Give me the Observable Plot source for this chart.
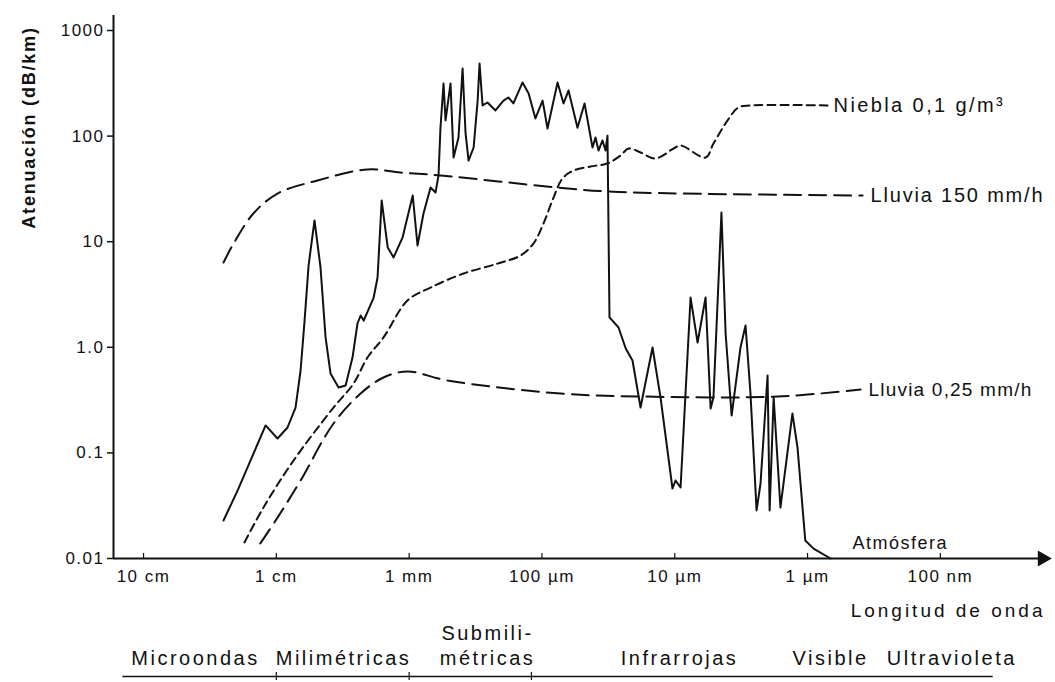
<!DOCTYPE html>
<html><head><meta charset="utf-8">
<script src="https://cdn.jsdelivr.net/npm/d3@7"></script>
<script src="https://cdn.jsdelivr.net/npm/@observablehq/plot@0.6"></script>
<style>
html,body{margin:0;padding:0;background:#fff;}
svg text{letter-spacing:1.5px;}
</style></head><body><div id="chart"></div>
<script>
// wavelength in mm, attenuation in dB/km
const atmLambda = [25.0,19.6,12.05,9.8,8.24,7.17,6.57,6.13,5.72,5.16,4.65,4.26,3.91,3.40,3.01,2.67,2.45,2.32,2.20,1.85,1.73,1.61,1.45,1.31,1.12,0.94,0.865,0.78,0.69,0.633,0.601,0.581,0.551,0.532,0.488,0.463,0.425,0.396,0.376,0.357,0.327,0.305,0.295,0.280,0.257,0.224,0.195,0.179,0.164,0.140,0.126,0.112,0.0989,0.0908,0.0763,0.0688,0.0631,0.0540,0.0478,0.0416,0.0395,0.0375,0.0350,0.0332,0.0321,0.0310,0.0265,0.0234,0.0208,0.0181,0.0147,0.0128,0.0104,0.00986,0.00904,0.00760,0.00673,0.00586,0.00537,0.00511,0.00445,0.00414,0.00373,0.00320,0.00293,0.00269,0.00242,0.00226,0.00200,0.00193,0.00180,0.00160,0.00130,0.00119,0.00104,0.000901,0.000671];
const atmAtt = [0.0229,0.044,0.182,0.137,0.174,0.269,0.603,1.79,5.95,15.9,5.7,1.24,0.565,0.416,0.434,0.80,1.68,2.0,1.79,2.96,4.58,24.5,8.8,7.1,11.0,27.4,9.2,18.5,32.6,29.2,42.4,120,315,141,315,62.7,97,437,106,58.7,78,217,487,195,208,175,217,232,204,322,253,147,217,118,322,204,270,120,204,78,97,73,91,73,101,1.92,1.54,0.975,0.75,0.269,0.995,0.335,0.046,0.0548,0.047,2.96,1.11,2.96,0.263,0.335,18.9,1.35,0.226,0.995,1.61,0.365,0.0285,0.0513,0.541,0.0285,0.335,0.0304,0.236,0.112,0.0148,0.0124,0.01];

const fogLambda = [17.4,12.5,7.42,3.71,2.62,2.06,1.56,1.03,0.69,0.389,0.216,0.145,0.116,0.0973,0.0818,0.0700,0.0578,0.0431,0.0321,0.0256,0.0223,0.0181,0.0140,0.0102,0.00904,0.00586,0.00511,0.00400,0.00331,0.00269,0.000707];
const fogAtt = [0.0142,0.0304,0.0848,0.269,0.454,0.80,1.24,2.77,3.68,5.0,6.2,7.4,9.6,14.9,26.2,39.7,47.2,51.5,55.1,65.5,76.3,70,61.4,76.3,81.5,62.7,85,141,187,195,195];

const rain150Lambda = [25.0,21.0,14.9,9.8,4.9,2.06,1.16,0.581,0.0763,0.0321,0.00904,0.000385];
const rain150Att = [6.35,9.6,18.5,28.6,38,48.3,45.2,42.4,32.6,29.9,28.6,27.4];

const rain025Lambda = [13.2,9.8,6.57,3.71,2.32,1.56,1.03,0.514,0.0724,0.0181,0.00168,0.000399];
const rain025Att = [0.0139,0.0244,0.0548,0.190,0.365,0.518,0.590,0.485,0.365,0.342,0.342,0.398];

const xTickValues = [100,10,1,0.1,0.01,0.001,0.0001];
const xTickLabels = ["10 cm","1 cm","1 mm","100 µm","10 µm","1 µm","100 nm"];
const yTickValues = [1000,100,10,1,0.1,0.01];
const yTickLabels = ["1000","100","10","1.0","0.1","0.01"];

const bandNames = ["Microondas","Milimétricas","Submili-\nmétricas","Infrarrojas","Visible","Ultravioleta"];
const bandCenters = [40.6,3.12,0.257,0.0092,0.000671,0.000082];
const bandEdges = [10,1,0.12];

const seriesLabels = ["Niebla 0,1 g/m³","Lluvia 150 mm/h","Lluvia 0,25 mm/h","Atmósfera"];
const yTitle = "Atenuación (dB/km)";
const xTitle = "Longitud de onda";

const W=1055,H=682,mT=15,mB=124,mL=113,mR=8;
const frameH = H-mT-mB;
const xDomain=[168.4,1.56e-5];
const yDomain=[0.01,1387];

const rows = (ls, vs) => ls.map((l,i)=>({l, v: vs[i]}));
const atm = rows(atmLambda, atmAtt);
const fog = rows(fogLambda, fogAtt);
const r150 = rows(rain150Lambda, rain150Att);
const r025 = rows(rain025Lambda, rain025Att);
const xLab = new Map(xTickValues.map((d,i)=>[d,xTickLabels[i]]));
const yLab = new Map(yTickValues.map((d,i)=>[d,yTickLabels[i]]));
const ink = "#111";
const last = a => a[a.length-1];

const chart = Plot.plot({
  width:W, height:H, marginTop:mT, marginBottom:mB, marginLeft:mL, marginRight:mR,
  style:{fontFamily:"'Liberation Sans', Arial, sans-serif", fontSize:"17px", color:ink, background:"#fff", overflow:"visible"},
  x:{type:"log", domain:xDomain},
  y:{type:"log", domain:yDomain},
  marks:[
    Plot.ruleX([xDomain[0]], {stroke:ink, strokeWidth:2}),
    Plot.ruleY([yDomain[0]], {stroke:ink, strokeWidth:2}),
    Plot.dot([xDomain[1]], {x:d=>d, y:()=>yDomain[0], symbol:"triangle", rotate:90, r:6, fill:ink, stroke:null, dx:-5}),
    Plot.axisY({ticks:yTickValues, tickFormat:d=>yLab.get(d), tickSize:6, tickPadding:3, label:null, fontSize:17, stroke:ink, strokeWidth:1.5}),
    Plot.axisX({ticks:xTickValues, tickFormat:d=>xLab.get(d), tickSize:0, tickPadding:11, label:null, fontSize:17}),
    Plot.ruleX(xTickValues, {x:d=>d, insetTop:frameH-5, stroke:ink, strokeWidth:1.2}),
    Plot.line(r150, {x:"l", y:"v", curve:"catmull-rom", stroke:ink, strokeWidth:2, strokeDasharray:"17,8"}),
    Plot.line(r025, {x:"l", y:"v", curve:"catmull-rom", stroke:ink, strokeWidth:2, strokeDasharray:"17,8"}),
    Plot.line(fog, {x:"l", y:"v", curve:"catmull-rom", stroke:ink, strokeWidth:2, strokeDasharray:"8,5"}),
    Plot.line(atm, {x:"l", y:"v", curve:"linear", stroke:ink, strokeWidth:2, strokeLinejoin:"round"}),
    Plot.text([last(fog)], {x:"l", y:"v", text:()=>seriesLabels[0], textAnchor:"start", dx:6, fontSize:20}),
    Plot.text([last(r150)], {x:"l", y:"v", text:()=>seriesLabels[1], textAnchor:"start", dx:8, fontSize:20}),
    Plot.text([last(r025)], {x:"l", y:"v", text:()=>seriesLabels[2], textAnchor:"start", dx:8, fontSize:19}),
    Plot.text([last(atm)], {x:"l", y:"v", text:()=>seriesLabels[3], textAnchor:"start", dx:22, dy:-15, fontSize:18}),
    Plot.text([yTitle], {frameAnchor:"top-left", rotate:-90, dx:-91, dy:112, textAnchor:"middle", fontWeight:"bold", fontSize:18}),
    Plot.text([xTitle], {frameAnchor:"bottom-right", textAnchor:"end", dx:-2, dy:58, fontSize:19}),
    Plot.text(bandNames, {x:(d,i)=>bandCenters[i], frameAnchor:"bottom", lineAnchor:"bottom", lineHeight:1.25, dy:106, fontSize:20}),
    Plot.ruleY([yDomain[0]], {x1:xDomain[0]*0.85, x2:0.00004, dy:118, stroke:ink, strokeWidth:1.5}),
    Plot.ruleX(bandEdges, {x:d=>d, insetTop:frameH-4, insetBottom:-4, dy:118, stroke:ink, strokeWidth:1.2})
  ]
});
document.getElementById("chart").appendChild(chart);
const spacing = new Map();
spacing.set(seriesLabels[0], "2.4px");
spacing.set(seriesLabels[1], "1.8px");
spacing.set(seriesLabels[2], "1.2px");
bandNames.forEach(t => spacing.set(t.replace("\n",""), "2.5px"));
spacing.set(yTitle, "1.8px");
spacing.set(xTitle, "3px");
d3.select(chart).selectAll("text").each(function(){
  const sp = spacing.get(this.textContent);
  if (sp) d3.select(this).style("letter-spacing", sp);
});
</script></body></html>
